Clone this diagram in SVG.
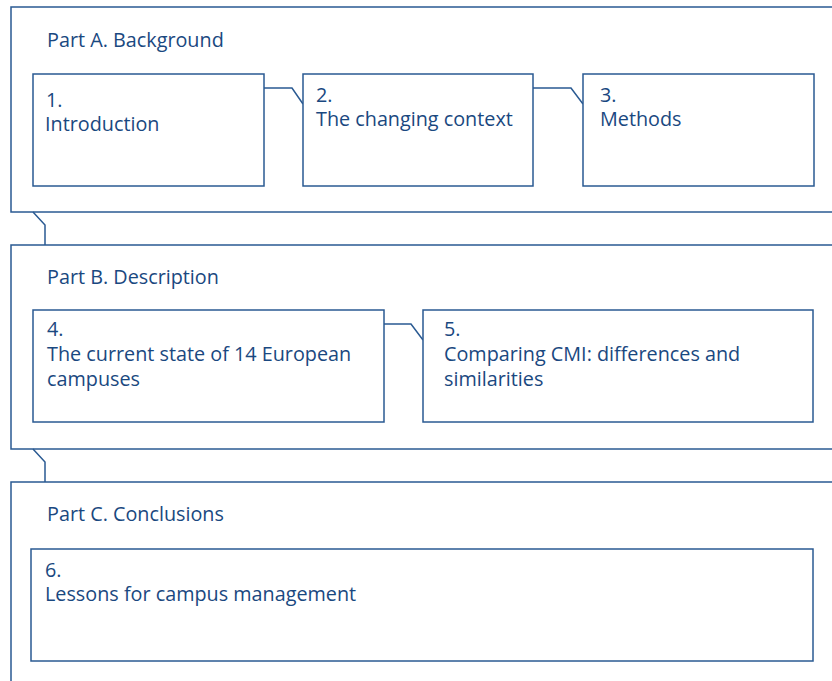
<svg xmlns="http://www.w3.org/2000/svg" width="832" height="681" viewBox="0 0 832 681">
<style>
.box{fill:#fff;stroke:#2a5a92;stroke-width:1.5}
.con{fill:none;stroke:#2a5a92;stroke-width:1.5}
text{font-family:"Open Sans","Noto Sans","Liberation Sans",sans-serif;font-size:19.8px;fill:#1a4880}
</style>
<rect width="832" height="681" fill="#fff"/>
<g id="partA"><rect class="box" x="11" y="7" width="840" height="205"/><text x="47" y="47">Part A. Background</text></g>
<g id="partB"><rect class="box" x="11" y="245" width="840" height="204"/><text x="47" y="284">Part B. Description</text></g>
<g id="partC"><rect class="box" x="11" y="482" width="840" height="220"/><text x="47" y="521">Part C. Conclusions</text></g>
<g id="connectors">
<polyline class="con" points="33,212 45,225 45,245"/>
<polyline class="con" points="33,449 45,462 45,482"/>
<polyline class="con" points="264,88 292,88 303,104"/>
<polyline class="con" points="533,88 571,88 583,104"/>
<polyline class="con" points="384,324 411,324 423,340"/>
</g>
<g id="n1"><rect class="box" x="33" y="74" width="231" height="112"/><text><tspan x="46" y="107">1.</tspan><tspan x="45" y="131">Introduction</tspan></text></g>
<g id="n2"><rect class="box" x="303" y="74" width="230" height="112"/><text><tspan x="316" y="102">2.</tspan><tspan x="316" y="126">The changing context</tspan></text></g>
<g id="n3"><rect class="box" x="583" y="74" width="231" height="112"/><text><tspan x="600" y="102">3.</tspan><tspan x="600" y="126">Methods</tspan></text></g>
<g id="n4"><rect class="box" x="33" y="310" width="351" height="112"/><text><tspan x="47" y="336">4.</tspan><tspan x="47" y="361">The current state of 14 European</tspan><tspan x="47" y="386">campuses</tspan></text></g>
<g id="n5"><rect class="box" x="423" y="310" width="390" height="112"/><text><tspan x="444" y="336">5.</tspan><tspan x="444" y="361">Comparing CMI: differences and</tspan><tspan x="444" y="386">similarities</tspan></text></g>
<g id="n6"><rect class="box" x="31" y="549" width="782" height="112"/><text><tspan x="45" y="577">6.</tspan><tspan x="45" y="601">Lessons for campus management</tspan></text></g>
</svg>
